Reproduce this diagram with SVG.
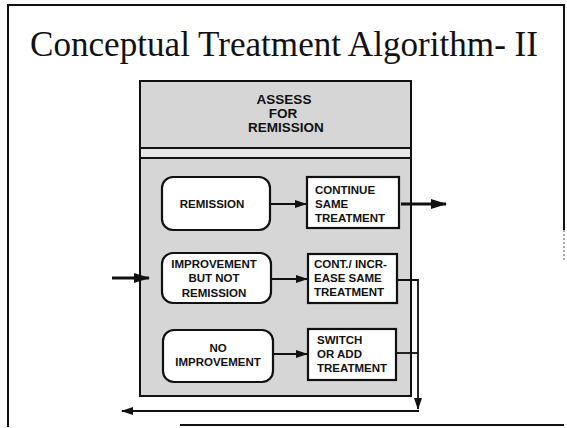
<svg xmlns="http://www.w3.org/2000/svg" width="567" height="428" viewBox="0 0 567 428">
<defs>
<style>
.frame{fill:none;stroke:#111;stroke-width:2}
.panel{fill:#d6d6d6;stroke:#111;stroke-width:2}
.strip{fill:#e6e6e6;stroke:none}
.rbox{fill:#fff;stroke:#111;stroke-width:2.2}
.sbox{fill:#fff;stroke:#111;stroke-width:2.2}
.lbl{font-family:"Liberation Sans",Arial,sans-serif;font-weight:bold;font-size:11.5px;fill:#111}
.hdr{font-family:"Liberation Sans",Arial,sans-serif;font-weight:bold;font-size:13.5px;fill:#111}
.title{font-family:"Liberation Serif","Times New Roman",serif;font-size:35px;fill:#111}
.conn{fill:none;stroke:#111;stroke-width:1.8}
.thick{fill:none;stroke:#111;stroke-width:3}
</style>
<marker id="ah" markerUnits="userSpaceOnUse" markerWidth="12" markerHeight="10" refX="11" refY="5" orient="auto">
<path d="M0,1 L12,5 L0,9 Z" fill="#111"/>
</marker>
<marker id="ahb" markerUnits="userSpaceOnUse" markerWidth="16" markerHeight="12" refX="15" refY="6" orient="auto">
<path d="M0,1 L16,6 L0,11 Z" fill="#111"/>
</marker>
</defs>

<g id="slide-frame">
<path class="frame" d="M8,427 L8,5 L564,5 L564,230"/>
<path d="M564,230 L564,262" stroke="#555" stroke-width="1" stroke-dasharray="2,2"/>
<path class="frame" d="M180,425 L564,425"/>
</g>

<g id="title">
<text class="title" x="30" y="56" textLength="508" lengthAdjust="spacingAndGlyphs">Conceptual Treatment Algorithm- II</text>
</g>

<g id="panel">
<rect class="panel" x="140" y="81" width="271" height="315"/>
<rect class="strip" x="141" y="149" width="269" height="9"/>
<line x1="140" y1="148" x2="411" y2="148" stroke="#111" stroke-width="2"/>
<line x1="140" y1="158" x2="411" y2="158" stroke="#111" stroke-width="2"/>
</g>

<g id="assess">
<text class="hdr" text-anchor="middle"><tspan x="284" y="104">ASSESS</tspan><tspan x="283" y="118">FOR</tspan><tspan x="286" y="132">REMISSION</tspan></text>
</g>

<g id="remission">
<rect class="rbox" x="162" y="177" width="108" height="53" rx="11"/>
<text class="lbl" x="212" y="208" text-anchor="middle">REMISSION</text>
</g>

<g id="continue">
<rect class="sbox" x="307" y="177" width="92" height="51"/>
<text class="lbl"><tspan x="315" y="194">CONTINUE</tspan><tspan x="315" y="208">SAME</tspan><tspan x="315" y="222">TREATMENT</tspan></text>
</g>

<g id="improvement">
<rect class="rbox" x="162" y="253" width="109" height="50" rx="11"/>
<text class="lbl" text-anchor="middle"><tspan x="214" y="268">IMPROVEMENT</tspan><tspan x="214" y="282">BUT NOT</tspan><tspan x="214" y="297">REMISSION</tspan></text>
</g>

<g id="cont-incr">
<rect class="sbox" x="308" y="254" width="89" height="49"/>
<text class="lbl"><tspan x="314" y="268">CONT./ INCR-</tspan><tspan x="314" y="282">EASE SAME</tspan><tspan x="314" y="296">TREATMENT</tspan></text>
</g>

<g id="no-improvement">
<rect class="rbox" x="163" y="330" width="110" height="52" rx="11"/>
<text class="lbl" text-anchor="middle"><tspan x="218" y="352">NO</tspan><tspan x="218" y="366">IMPROVEMENT</tspan></text>
</g>

<g id="switch">
<rect class="sbox" x="308" y="329" width="88" height="51"/>
<text class="lbl"><tspan x="317" y="344">SWITCH</tspan><tspan x="317" y="358">OR ADD</tspan><tspan x="317" y="372">TREATMENT</tspan></text>
</g>

<g id="connectors">
<line class="conn" x1="270" y1="204" x2="306" y2="204" marker-end="url(#ah)"/>
<line class="conn" x1="271" y1="279" x2="307" y2="279" marker-end="url(#ah)"/>
<line class="conn" x1="273" y1="354" x2="307" y2="354" marker-end="url(#ah)"/>
<line class="thick" x1="401" y1="204" x2="446" y2="204" marker-end="url(#ahb)"/>
<line class="thick" x1="112" y1="278" x2="149" y2="278" marker-end="url(#ahb)"/>
<path class="conn" d="M397,280 L418,280 L418,409" marker-end="url(#ah)"/>
<path class="conn" d="M396,353 L418,353"/>
<line class="conn" x1="419" y1="411" x2="122" y2="411" marker-end="url(#ah)"/>
</g>
</svg>
